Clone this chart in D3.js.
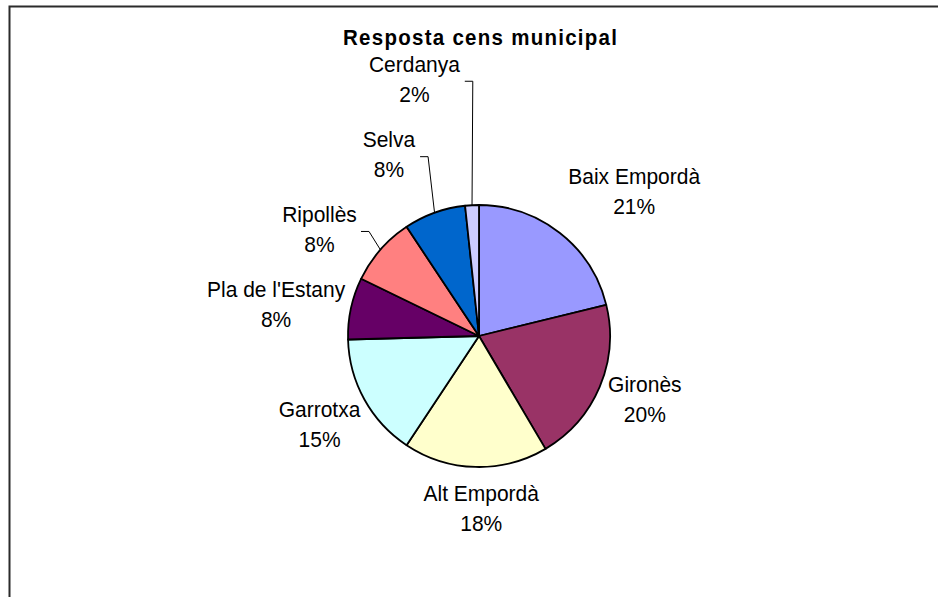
<!DOCTYPE html>
<html>
<head>
<meta charset="utf-8">
<script src="https://cdn.jsdelivr.net/npm/d3@7"></script>
<style>
    body { margin: 0; background: #fff; }
    svg { display: block; font-family: "Liberation Sans", Arial, sans-serif; }
</style>
</head>
<body>
<svg id="pie-vis"></svg>
<script>
// comarques (clockwise from 12 o'clock) and response counts
const comarques = ["Baix Empordà", "Gironès", "Alt Empordà", "Garrotxa",
    "Pla de l'Estany", "Ripollès", "Selva", "Cerdanya"];
const respostes = [25, 24, 21, 18, 9, 10, 9, 2];
const colors = ["#9999ff", "#993366", "#ffffcc", "#ccffff",
    "#660066", "#ff8080", "#0066cc", "#ccccff"];
const title = "Resposta cens municipal";

const WIDTH = 938;
const HEIGHT = 597;
const CX = 479;
const CY = 336;
const RADIUS = 131;
const LABEL_RADIUS = 180;
const FONT_SIZE = 21;
const STRETCH_Y = 1.07;   // excel text looks a bit taller than the font
const LINE_GAP = 30;

// manual tweak of label placement (like the excel layout), relative to label arc centroid
const labelNudge = {
    "Baix Empordà": [44, -3],
    "Gironès": [0, -6],
    "Alt Empordà": [7, -7],
    "Garrotxa": [-2, 1],
    "Pla de l'Estany": [-27, 7],
    "Ripollès": [-24, 12],
    "Selva": [-29, -12],
    "Cerdanya": [-55, -77]
};
const withLeader = ["Ripollès", "Selva", "Cerdanya"];

const root = d3.select('#pie-vis')
    .attr('width', WIDTH)
    .attr('height', HEIGHT);

drawFrame();
drawTitle();
drawPie();

function drawFrame() {
    root.append('rect')
        .attr('x', 9.5)
        .attr('y', 6.5)
        .attr('width', WIDTH + 20)
        .attr('height', HEIGHT + 20)
        .attr('fill', 'none')
        .attr('stroke', '#2b2b2b')
        .attr('stroke-width', 2);
}

function drawTitle() {
    root.append('text')
        .text(title)
        .attr('transform', `translate(480,45) scale(1,${STRETCH_Y})`)
        .attr('font-size', 20.5)
        .attr('font-weight', 700)
        .attr('fill', '#000')
        .attr('text-anchor', 'middle')
        .attr('textLength', 274)
        .attr('lengthAdjust', 'spacing');
}

function drawPie() {
    const total = d3.sum(respostes);
    const data = comarques.map((name, i) => ({name: name, value: respostes[i], color: colors[i]}));

    const pie = d3.pie()
        .value(d => d.value)
        .sort(null);
    const arcs = pie(data);

    const arc = d3.arc().innerRadius(0).outerRadius(RADIUS);
    const edgeArc = d3.arc().innerRadius(RADIUS).outerRadius(RADIUS);
    const labelArc = d3.arc().innerRadius(LABEL_RADIUS).outerRadius(LABEL_RADIUS);

    const g = root.append('g')
        .attr('transform', `translate(${CX},${CY})`);

    g.selectAll('path.slice')
        .data(arcs)
        .enter()
        .append('path')
        .classed('slice', true)
        .attr('d', arc)
        .attr('fill', d => d.data.color)
        .attr('stroke', '#000')
        .attr('stroke-width', 1.8)
        .attr('stroke-linejoin', 'round');

    arcs.forEach(d => {
        const c = labelArc.centroid(d);
        const nudge = labelNudge[d.data.name] || [0, 0];
        const lx = c[0] + nudge[0];
        const ly = c[1] + nudge[1];

        const label = g.append('text')
            .attr('transform', `translate(${lx},${ly}) scale(1,${STRETCH_Y})`)
            .attr('font-size', FONT_SIZE)
            .attr('fill', '#000')
            .attr('text-anchor', 'middle');
        label.append('tspan')
            .text(d.data.name)
            .attr('x', 0)
            .attr('y', -7.5 / STRETCH_Y);
        label.append('tspan')
            .text(Math.round(d.data.value / total * 100) + '%')
            .attr('x', 0)
            .attr('y', (LINE_GAP - 7.5) / STRETCH_Y);

        if (withLeader.indexOf(d.data.name) >= 0) {
            const box = label.node().getBBox();
            const edge = edgeArc.centroid(d);
            const x0 = lx + box.x + box.width + 4;
            const y0 = ly + 2;
            g.append('path')
                .attr('d', d3.line()([[x0, y0], [x0 + 8, y0], edge]))
                .attr('fill', 'none')
                .attr('stroke', '#000')
                .attr('stroke-width', 1);
        }
    });
}
</script>
</body>
</html>
